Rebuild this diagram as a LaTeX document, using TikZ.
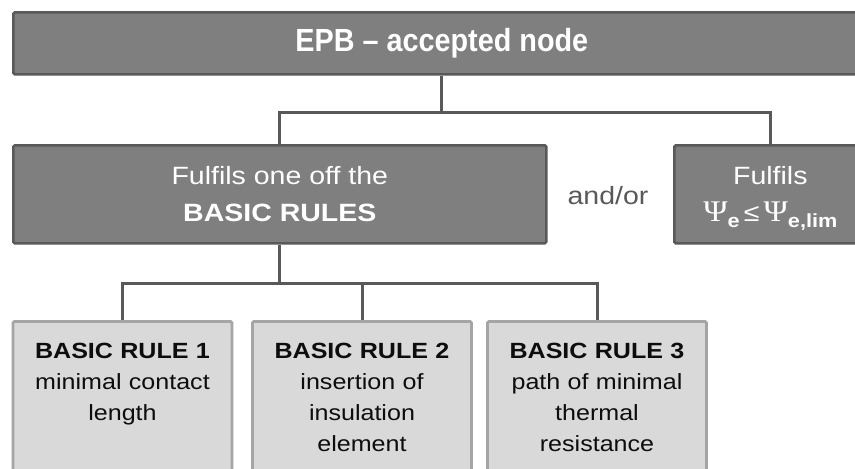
\documentclass[tikz,border=0pt]{standalone}
\usepackage{fontspec}
\setmainfont{Liberation Sans}
\newfontfamily\widesans[FakeStretch=1.14]{Liberation Sans}
\newfontfamily\narrowsans[FakeStretch=0.9]{Liberation Sans}
\newfontfamily\psifont[FakeStretch=1.1]{Liberation Serif}
\usetikzlibrary{positioning}

\definecolor{boxfill}{RGB}{127,127,127}
\definecolor{boxline}{RGB}{89,89,89}
\definecolor{rulefill}{RGB}{217,217,217}
\definecolor{ruleline}{RGB}{165,165,165}
\definecolor{ruletext}{RGB}{13,13,13}

\newcommand\lowsub[1]{\smash{\raisebox{-6pt}{\bfseries\fontsize{19}{19}\selectfont #1}}}

\tikzset{
  darkbox/.style={draw=boxline,fill=boxfill,line width=2.6pt,rounded corners=1.5pt,text=white,align=center,inner sep=0pt,anchor=north west},
  rulebox/.style={draw=ruleline,fill=rulefill,line width=2.8pt,rounded corners=1.5pt,text=ruletext,align=center,text width=211pt,inner xsep=4pt,inner ysep=22pt,text depth=150pt,anchor=north,font=\widesans\fontsize{22}{31}\selectfont},
  link/.style={draw=boxline,line width=3pt}
}

\begin{document}
\begin{tikzpicture}[x=1pt,y=-1pt]
\useasboundingbox (0,0) rectangle (855,469);
\clip (0,0) rectangle (855,469);

\node [darkbox,minimum width=857pt,minimum height=62pt,font=\narrowsans\bfseries\fontsize{32}{38}\selectfont] (epb) at (12,11) {EPB – accepted node};

\node [darkbox,minimum width=533pt,minimum height=98pt,font=\widesans\fontsize{25}{37}\selectfont] (rules) at (12,144) {Fulfils one off the\\\textbf{BASIC RULES}};
\node [darkbox,minimum width=192pt,minimum height=98pt,font=\widesans\fontsize{25}{37}\selectfont] (limit) at (673,144) {Fulfils\\{\psifont\fontsize{30}{37}\selectfont Ψ}\lowsub{e}\,≤\,{\psifont\fontsize{30}{37}\selectfont Ψ}\lowsub{e,lim}};
\node [anchor=base,text=boxline,font=\widesans\fontsize{25}{30}\selectfont] (andor) at (608,204) {and/or};

\node [rulebox] (rule1) at (122.5,320) {\textbf{BASIC RULE 1}\\minimal contact\\length};
\node [rulebox] (rule2) at (362,320) {\textbf{BASIC RULE 2}\\insertion of\\insulation\\element};
\node [rulebox] (rule3) at (597,320) {\textbf{BASIC RULE 3}\\path of minimal\\thermal\\resistance};

\coordinate [below=37pt of epb.south] (split1);
\coordinate [below=39pt of rules.south] (split2);
\draw [link] (epb.south) -- (split1);
\draw [link] (rules.north) |- (split1) -| (limit.north);
\draw [link] (rules.south) -- (split2);
\draw [link] (rule1.north) |- (split2) -| (rule3.north);
\draw [link] (rule2.north) -- (rule2.north |- split2);
\end{tikzpicture}
\end{document}
